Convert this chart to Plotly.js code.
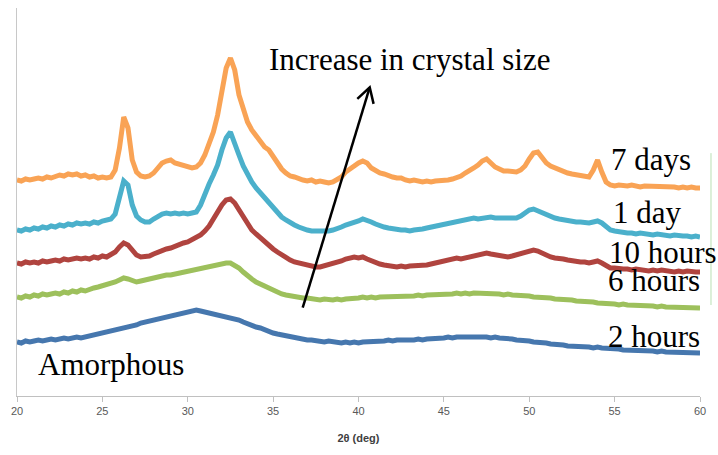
<!DOCTYPE html>
<html>
<head>
<meta charset="utf-8">
<script src="https://cdn.plot.ly/plotly-3.0.1.min.js"></script>
<style>html,body{margin:0;padding:0;background:#fff;}#chart{width:718px;height:455px;}</style>
</head>
<body>
<div id="chart"></div>
<script>
// 2θ sampling: start 20°, step 0.25°, up to 60°
const twoThetaStart = 20;
const twoThetaStep = 0.25;

const seriesNames = ["2 hours", "6 hours", "10 hours", "1 day", "7 days"];
const seriesColors = ["#4677AE", "#9DC05C", "#B0443F", "#4BB0CB", "#F9A355"];

const twoHours = [
54,53,55,54, 55,56,55,56, 57,56,57,58, 57,58,59,58, 59,60,60,61,
62,63,64,65, 66,67,69,70, 71,73,74,75, 76,78,79,80, 81,82,83,84,
85,86,86,85, 84,84,83,82, 81,80,79,78, 76,74,72,71, 69,68,66,65,
63,62,61,60, 59,58,58,57, 56,56,55,55, 54,55,54,54, 53,54,53,54,
53,54,54,55, 54,55,55,56, 55,56,56,55, 56,56,57,56, 57,57,58,58,
58,59,58,59, 59,59,60,59, 60,59,59,58, 59,58,58,57, 57,56,56,55,
55,54,54,53, 53,52,52,51, 51,50,50,50, 49,49,49,48, 49,48,48,47,
47,47,46,46, 46,45,46,45, 45,45,44,45, 44,44,44,43, 44,43,43,43,
43];

const sixHours = [
99,98,100,99, 101,100,102,101, 102,103,102,104, 103,105,104,106, 105,107,108,109,
110,111,113,114, 116,118,117,115, 114,115,116,118, 118,119,120,121, 121,122,123,124,
125,125,126,127, 128,129,130,131, 132,133,133,131, 128,124,120,117, 114,112,109,107,
105,104,102,101, 100,99,99,98, 98,97,97,96, 97,96,96,97, 96,97,97,98,
98,99,98,99, 98,99,99,100, 99,100,100,99, 100,100,101,100, 101,101,102,102,
101,102,102,103, 102,103,102,103, 103,102,103,103, 102,102,101,102, 101,101,100,100,
100,99,99,99, 98,98,97,97, 97,96,96,95, 95,94,94,94, 93,93,92,92,
92,91,92,91, 91,90,91,90, 90,90,89,90, 89,89,89,88, 89,88,88,89,
88];

const tenHours = [
133,132,134,133, 134,133,135,134, 135,136,135,137, 136,137,138,137, 138,137,139,138,
140,139,141,144, 149,153,151,146, 141,139,139,140, 142,144,145,147, 148,150,152,153,
154,156,158,161, 165,170,177,185, 191,196,197,193, 186,179,172,166, 162,158,155,151,
147,144,141,138, 136,134,133,131, 131,130,129,129, 130,131,132,134, 135,137,138,139,
138,139,137,135, 134,132,131,130, 129,129,130,129, 130,130,131,130, 131,132,133,134,
135,136,137,138, 137,138,139,141, 142,143,143,142, 141,140,140,139, 140,141,142,144,
145,146,145,143, 140,139,138,138, 137,136,135,135, 134,134,133,134, 135,133,130,128,
128,127,127,127, 126,127,126,126, 125,126,125,126, 125,125,124,125, 124,125,124,124,
124];

const oneDay = [
166,165,167,166, 168,167,169,168, 170,169,171,170, 172,171,173,172, 173,172,174,173,
175,176,177,182, 198,215,211,191, 180,176,174,174, 177,180,182,183, 182,183,182,183,
182,183,184,191, 203,212,221,231, 246,258,264,254, 241,230,221,214, 208,203,199,193,
188,183,179,176, 173,171,169,167, 166,165,165,164, 164,165,166,167, 169,171,172,174,
175,177,176,174, 172,170,169,168, 167,167,166,166, 165,166,166,167, 168,169,170,170,
171,172,173,174, 175,177,178,178, 177,178,179,179, 178,178,177,177, 177,178,180,183,
186,187,185,183, 181,180,178,177, 176,175,175,174, 174,173,173,174, 175,173,169,166,
165,164,164,163, 163,162,163,162, 162,161,162,161, 161,160,161,160, 160,160,159,160,
159];

const sevenDays = [
216,215,217,216, 217,218,217,219, 218,220,221,220, 222,221,222,220, 221,219,220,218,
219,218,219,226, 248,279,268,236, 224,220,219,220, 223,228,233,235, 236,233,232,231,
230,228,229,233, 241,253,264,281, 306,328,338,326, 301,286,274,266, 260,253,249,246,
239,232,227,223, 220,219,217,216, 215,216,214,215, 214,213,214,216, 219,224,227,231,
233,235,233,228, 225,223,222,220, 219,218,218,216, 215,216,215,214, 215,214,215,215,
216,216,217,218, 220,223,225,228, 231,235,237,233, 229,227,225,225, 224,224,226,230,
237,243,244,238, 233,230,228,226, 224,223,222,221, 220,219,219,226, 236,224,214,211,
210,211,210,210, 211,210,209,210, 210,209,210,209, 209,210,209,208, 209,208,209,208,
208];

const seriesValues = [twoHours, sixHours, tenHours, oneDay, sevenDays];

const xTickStart = 20, xTickStep = 5, xMin = 20, xMax = 60;
const yMin = 0, yMax = 388;

const traces = seriesValues.map((vals, i) => ({
  type: "scatter",
  mode: "lines",
  name: seriesNames[i],
  x0: twoThetaStart,
  dx: twoThetaStep,
  y: vals,
  line: {color: seriesColors[i], width: 5},
  hoverinfo: "skip"
}));

const serif = "Liberation Serif, Times New Roman, serif";
const labelFont = {family: serif, size: 31, color: "#000"};

const layout = {
  width: 718,
  height: 455,
  margin: {l: 17, r: 18, t: 8, b: 59},
  paper_bgcolor: "#fff",
  plot_bgcolor: "#fff",
  showlegend: false,
  xaxis: {
    range: [xMin, xMax],
    tick0: xTickStart,
    dtick: xTickStep,
    ticks: "outside",
    ticklen: 5,
    tickcolor: "#c0c0c0",
    showline: true,
    linecolor: "#c0c0c0",
    linewidth: 1,
    showgrid: false,
    zeroline: false,
    tickfont: {family: "Liberation Sans, Arial, sans-serif", size: 11, color: "#595959"},
    title: {text: "<b>2θ (deg)</b>", font: {family: "Liberation Sans, Arial, sans-serif", size: 11, color: "#404040"}, standoff: 18}
  },
  yaxis: {
    range: [yMin, yMax],
    showticklabels: false,
    ticks: "",
    showline: true,
    linecolor: "#c8c8c8",
    linewidth: 1,
    showgrid: false,
    zeroline: false
  },
  annotations: [
    {x: 34.62, y: 337, xref: "x", yref: "y", text: "Increase in crystal size", showarrow: false, xanchor: "left", yanchor: "middle", font: labelFont},
    {x: 21.12, y: 32, xref: "x", yref: "y", text: "Amorphous", showarrow: false, xanchor: "left", yanchor: "middle", font: labelFont},
    {x: 54.66, y: 237, xref: "x", yref: "y", text: "7 days", showarrow: false, xanchor: "left", yanchor: "middle", font: labelFont},
    {x: 54.78, y: 184, xref: "x", yref: "y", text: "1 day", showarrow: false, xanchor: "left", yanchor: "middle", font: labelFont},
    {x: 54.56, y: 144, xref: "x", yref: "y", text: "10 hours", showarrow: false, xanchor: "left", yanchor: "middle", font: labelFont},
    {x: 54.50, y: 116, xref: "x", yref: "y", text: "6 hours", showarrow: false, xanchor: "left", yanchor: "middle", font: labelFont},
    {x: 54.50, y: 60, xref: "x", yref: "y", text: "2 hours", showarrow: false, xanchor: "left", yanchor: "middle", font: labelFont}
  ],
  shapes: [
    {type: "path", xref: "x", yref: "y", path: "M36.733,88.3 L40.657,308.7", line: {color: "#000", width: 2.5}},
    {type: "path", xref: "x", yref: "y", path: "M39.930,297.1 L40.657,308.7 L40.884,292.1", line: {color: "#000", width: 2.5}},
    {type: "line", xref: "paper", yref: "paper", x0: 1.0161, x1: 1.0161, y0: 0.2345, y1: 0.626, line: {color: "#b9e0b4", width: 1}}
  ]
};

Plotly.newPlot("chart", traces, layout, {displayModeBar: false, staticPlot: true});
</script>
</body>
</html>
